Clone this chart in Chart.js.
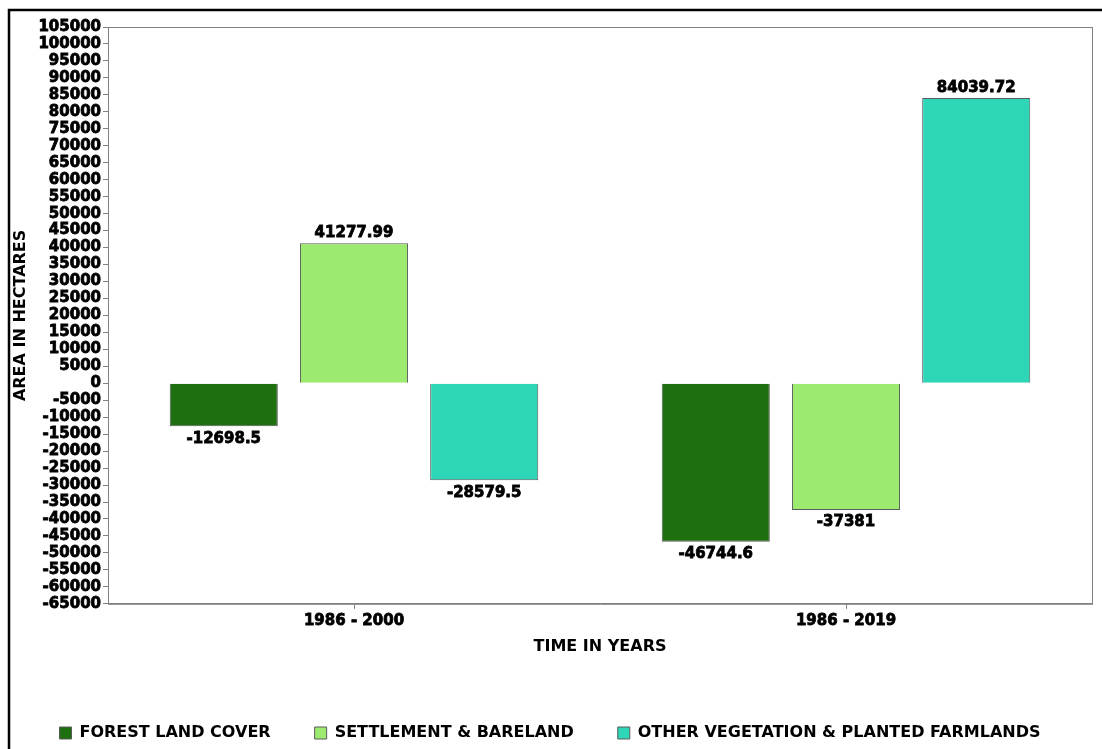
<!DOCTYPE html>
<html>
<head>
<meta charset="utf-8">
<script src="https://cdn.jsdelivr.net/npm/chart.js@4"></script>
<style>
  html, body { margin: 0; padding: 0; background: #fff; }
  #wrap { width: 1102px; height: 749px; }
</style>
</head>
<body>
<div id="wrap"><canvas id="chart"></canvas></div>
<script>
// data
const periods = ["1986 - 2000", "1986 - 2019"];
const forestLand = [-12698.5, -46744.6];
const settlement = [41277.99, -37381];
const otherVegetation = [-28579.5, 84039.72];

const seriesNames = ["FOREST LAND COVER", "SETTLEMENT & BARELAND", "OTHER VEGETATION & PLANTED FARMLANDS"];
const seriesColors = ["#1e6f10", "#9dea70", "#2ed6b8"];

const fam = "'DejaVu Sans', 'Liberation Sans', sans-serif";
const tickFont = { family: fam, size: 15, weight: "bold" };
const titleFont = { family: fam, size: 16, weight: "bold" };

// outer frame and plot box
const framePlugin = {
  id: "frame",
  beforeDraw(chart) {
    const ctx = chart.ctx;
    ctx.save();
    ctx.strokeStyle = "#000";
    ctx.lineWidth = 2.5;
    ctx.beginPath();
    ctx.moveTo(9, 749);
    ctx.lineTo(9, 10);
    ctx.lineTo(1102, 10);
    ctx.stroke();
    ctx.restore();
  },
  afterDatasetsDraw(chart) {
    const a = chart.chartArea;
    const ctx = chart.ctx;
    ctx.save();
    ctx.strokeStyle = "#808080";
    ctx.lineWidth = 1;
    ctx.strokeRect(a.left + 0.5, a.top + 0.5, a.right - a.left, a.bottom - a.top);
    ctx.restore();
  }
};

// value labels above / below each bar
const valueLabels = {
  id: "valueLabels",
  afterDatasetsDraw(chart) {
    const ctx = chart.ctx;
    ctx.save();
    ctx.font = "bold 15px " + fam;
    ctx.textAlign = "center";
    ctx.fillStyle = "#000";
    ctx.strokeStyle = "#000";
    ctx.lineWidth = 0.8;
    chart.data.datasets.forEach((ds, i) => {
      chart.getDatasetMeta(i).data.forEach((bar, j) => {
        const v = ds.data[j];
        let y;
        if (v >= 0) {
          ctx.textBaseline = "bottom";
          y = bar.y - 3;
        } else {
          ctx.textBaseline = "top";
          y = bar.y + 5;
        }
        ctx.strokeText(String(v), bar.x, y);
        ctx.fillText(String(v), bar.x, y);
      });
    });
    ctx.restore();
  }
};

new Chart(document.getElementById("chart"), {
  type: "bar",
  data: {
    labels: periods,
    datasets: [forestLand, settlement, otherVegetation].map((d, i) => ({
      label: seriesNames[i],
      data: d,
      backgroundColor: seriesColors[i],
      borderColor: "#5a5a5a",
      borderWidth: 1,
      categoryPercentage: 0.794,
      barPercentage: 0.83
    }))
  },
  options: {
    responsive: true,
    maintainAspectRatio: false,
    animation: false,
    layout: { padding: { left: 8, top: 27, right: 10, bottom: -2 } },
    scales: {
      x: {
        grid: { offset: false, drawOnChartArea: false, drawTicks: true, tickLength: 5, color: "#808080" },
        border: { display: true, color: "#808080" },
        ticks: { font: tickFont, color: "#000", padding: 3, textStrokeColor: "#000", textStrokeWidth: 0.8 },
        title: {
          display: true, text: "TIME IN YEARS", font: titleFont, color: "#000",
          padding: { top: 4, bottom: 25 }
        }
      },
      y: {
        min: -65000,
        max: 105000,
        afterFit(scale) { scale.width = 100; },
        grid: { drawOnChartArea: false, drawTicks: true, tickLength: 5, color: "#808080" },
        border: { display: true, color: "#808080" },
        ticks: {
          stepSize: 5000, autoSkip: false, font: tickFont, color: "#000", padding: 2,
          textStrokeColor: "#000", textStrokeWidth: 0.8,
          callback: (v) => String(v)
        },
        title: {
          display: true, text: "AREA IN HECTARES", font: titleFont, color: "#000",
          padding: { top: 3, bottom: 0 }
        }
      }
    },
    plugins: {
      legend: {
        position: "bottom",
        labels: {
          font: titleFont, color: "#000", boxWidth: 12, boxHeight: 12, padding: 44
        }
      },
      tooltip: { enabled: false }
    }
  },
  plugins: [framePlugin, valueLabels]
});
</script>
</body>
</html>
